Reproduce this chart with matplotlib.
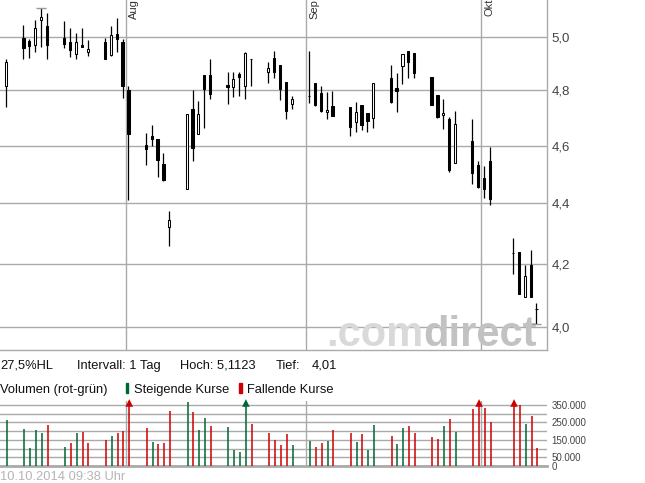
import numpy as np
import pandas as pd
import matplotlib
matplotlib.use("Agg")
import matplotlib.pyplot as plt
import matplotlib.dates as mdates
import matplotlib.transforms as mtransforms
from matplotlib.patches import Rectangle
from matplotlib.ticker import FixedLocator, FuncFormatter, NullLocator

plt.rcParams['font.family'] = ['Liberation Sans', 'DejaVu Sans']

# daily candles, 11.07.2014 - 10.10.2014
dates = ["2014-07-11", "2014-07-14", "2014-07-15", "2014-07-16", "2014-07-17", "2014-07-18",
         "2014-07-21", "2014-07-22", "2014-07-23", "2014-07-24", "2014-07-25",
         "2014-07-28", "2014-07-29", "2014-07-30", "2014-07-31", "2014-08-01",
         "2014-08-04", "2014-08-05", "2014-08-06", "2014-08-07", "2014-08-08",
         "2014-08-11", "2014-08-12", "2014-08-13", "2014-08-14", "2014-08-15",
         "2014-08-18", "2014-08-19", "2014-08-20", "2014-08-21", "2014-08-22",
         "2014-08-25", "2014-08-26", "2014-08-27", "2014-08-28", "2014-08-29",
         "2014-09-01", "2014-09-02", "2014-09-03", "2014-09-04", "2014-09-05",
         "2014-09-08", "2014-09-09", "2014-09-10", "2014-09-11", "2014-09-12",
         "2014-09-15", "2014-09-16", "2014-09-17", "2014-09-18", "2014-09-19",
         "2014-09-22", "2014-09-23", "2014-09-24", "2014-09-25", "2014-09-26",
         "2014-09-29", "2014-09-30", "2014-10-01", "2014-10-02",
         "2014-10-06", "2014-10-07", "2014-10-08", "2014-10-09", "2014-10-10"]

opens = [4.815, 4.997, 4.986, 4.969, 5.066, 5.044, 4.997, 4.981, 4.935, 4.972, 4.943,
         4.982, 4.934, 5.013, 4.981, 4.801, 4.602, 4.634, 4.624, 4.536, 4.322,
         4.448, 4.731, 4.640, 4.857, 4.857, 4.820, 4.814, 4.861, 4.817, 4.916,
         4.867, 4.920, 4.895, 4.830, 4.749, 4.778, 4.827, 4.790, 4.720, 4.743,
         4.738, 4.686, 4.745, 4.716, 4.698, 4.845, 4.808, 4.891, 4.948, 4.939,
         4.848, 4.782, 4.709, 4.695, 4.538, 4.617, 4.532, 4.488, 4.546,
         4.236, 4.238, 4.094, 4.197, 4.057]
highs = [4.916, 5.048, 4.992, 5.066, 5.1123, 5.093, 5.063, 5.036, 5.015, 5.036, 4.990,
         4.997, 5.044, 5.075, 4.993, 4.816, 4.645, 4.673, 4.624, 4.574, 4.375,
         4.712, 4.801, 4.761, 4.857, 4.917, 4.868, 4.868, 4.868, 4.945, 4.916,
         4.905, 4.948, 4.895, 4.830, 4.778, 4.948, 4.827, 4.816, 4.794, 4.798,
         4.738, 4.757, 4.745, 4.716, 4.826, 4.895, 4.863, 4.935, 4.948, 4.939,
         4.848, 4.782, 4.767, 4.701, 4.724, 4.694, 4.545, 4.529, 4.594,
         4.285, 4.238, 4.197, 4.245, 4.075]
lows = [4.740, 4.918, 4.922, 4.945, 4.964, 4.918, 4.960, 4.926, 4.918, 4.962, 4.930,
        4.916, 4.930, 4.945, 4.773, 4.412, 4.533, 4.600, 4.491, 4.478, 4.259,
        4.448, 4.547, 4.640, 4.664, 4.769, 4.751, 4.777, 4.780, 4.769, 4.817,
        4.828, 4.847, 4.766, 4.696, 4.731, 4.752, 4.743, 4.721, 4.696, 4.707,
        4.635, 4.648, 4.656, 4.648, 4.664, 4.755, 4.722, 4.822, 4.847, 4.847,
        4.747, 4.698, 4.658, 4.509, 4.538, 4.467, 4.453, 4.419, 4.396,
        4.168, 4.105, 4.094, 4.096, 4.010]
closes = [4.905, 4.960, 4.965, 5.035, 5.078, 4.972, 4.975, 4.953, 4.981, 4.964, 4.954,
          4.918, 5.009, 4.995, 4.817, 4.643, 4.589, 4.623, 4.551, 4.480, 4.343,
          4.712, 4.593, 4.712, 4.806, 4.788, 4.814, 4.841, 4.848, 4.939, 4.916,
          4.882, 4.867, 4.806, 4.723, 4.769, 4.778, 4.747, 4.725, 4.728, 4.707,
          4.668, 4.721, 4.675, 4.687, 4.826, 4.758, 4.799, 4.935, 4.905, 4.866,
          4.747, 4.702, 4.716, 4.515, 4.678, 4.505, 4.457, 4.450, 4.414,
          4.236, 4.105, 4.162, 4.096, 4.057]
volumes = [263000, 211000, 102000, 206000, 188000, 234000, 108000, 131000, 188000, 194000, 131000,
           148000, 171000, 188000, 200000, 520000, 217000, 137000, 125000, 131000, 315000,
           368000, 309000, 206000, 275000, 229000, 223000, 90000, 79000, 410000, 240000,
           188000, 148000, 119000, 183000, 119000, 142000, 108000, 131000, 142000, 206000,
           188000, 137000, 183000, 90000, 234000, 171000, 125000, 217000, 229000, 188000,
           165000, 154000, 229000, 269000, 194000, 327000, 450000, 332000, 252000,
           480000, 350000, 240000, 286000, 102000]

price_ticks = [4.0, 4.2, 4.4, 4.6, 4.8, 5.0]
vol_ticks = [0, 50000, 100000, 150000, 200000, 250000, 300000, 350000]
vol_labelled = [0, 50000, 150000, 250000, 350000]
months = ["2014-08-01", "2014-09-01", "2014-10-01"]
month_names = ["Aug", "Sep", "Okt"]

W, H = 645, 483
fig = plt.figure(figsize=(W / 100, H / 100), dpi=100)


def box(x0, y0, x1, y1):
    # pixel box (top-left origin) -> figure rect
    return [x0 / W, 1 - y1 / H, (x1 - x0) / W, (y1 - y0) / H]


t = mdates.date2num(pd.to_datetime(dates).to_numpy() + np.timedelta64(12, 'h'))
tm = mdates.date2num(pd.to_datetime(months).to_numpy())
xlim = (mdates.date2num(np.datetime64("2014-07-10T07:12")),
        mdates.date2num(np.datetime64("2014-10-12T06:00")))

o = np.array(opens)
c = np.array(closes)
hi = np.array(highs)
lo = np.array(lows)
vol = np.array(volumes)

grid_c = '#aaaaaa'

# price chart
ax = fig.add_axes(box(-1, -1, 546.7, 350))
ax.set_yscale('log')
ax.set_xlim(xlim)
ax.set_ylim(3.931, 5.1496)
ax.yaxis.set_major_locator(FixedLocator(price_ticks))
ax.yaxis.set_minor_locator(NullLocator())
ax.yaxis.set_major_formatter(FuncFormatter(lambda v, p: f"{v:.1f}".replace('.', ',')))
ax.yaxis.tick_right()
ax.tick_params(axis='y', length=0, pad=3.5, labelsize=9.5, labelcolor='#444444')
ax.set_xticks([])
ax.grid(axis='y', color=grid_c, lw=1, zorder=1)
ax.set_axisbelow(True)
for s in ['top', 'left']:
    ax.spines[s].set_visible(False)
for s in ['right', 'bottom']:
    ax.spines[s].set_color(grid_c)
    ax.spines[s].set_linewidth(1)
for m, name in zip(tm, month_names):
    ax.axvline(m, color=grid_c, lw=1, zorder=1)
    ax.text(m + 0.6, 1.0, name, rotation=90, ha='left', va='top', fontsize=8,
            color='#333333', transform=mtransforms.blended_transform_factory(ax.transData, ax.transAxes))

# watermark
wm = ax.text(326 / W, 1 - 346 / H, ".com", transform=fig.transFigure, fontsize=30,
             fontweight='bold', color='#d9d9d9', va='baseline', ha='left', zorder=2,
             clip_on=True)
ax.annotate("direct", xy=(1, 0), xycoords=wm, fontsize=30, fontweight='bold',
            color='#c2c2c2', va='bottom', ha='left', zorder=2, annotation_clip=False)

# candles
ax.vlines(t, lo, hi, color='black', lw=0.9, zorder=3)
up = c >= o
ax.bar(t, np.abs(c - o), bottom=np.minimum(o, c), width=0.38,
       color=np.where(up, 'white', 'black'), edgecolor='black', lw=0.75, zorder=4)

# high / low markers
i_hi = int(np.argmax(hi))
i_lo = int(np.argmin(lo))
ax.hlines(hi[i_hi], t[i_hi] - 0.9, t[i_hi] + 0.9, color='#999999', lw=1, zorder=3)
ax.hlines(lo[i_lo], t[i_lo] - 0.7, t[i_lo] + 0.8, color='#999999', lw=1, zorder=3)

# volume chart
vmax = 375000
axv = fig.add_axes(box(-1, 400.7, 546.7, 466))
axv.set_xlim(xlim)
axv.set_ylim(0, vmax)
axv.set_yticks(vol_ticks)
axv.yaxis.set_major_formatter(FuncFormatter(
    lambda v, p: f"{int(v):,}".replace(',', '.') if int(v) in vol_labelled else ''))
axv.yaxis.tick_right()
axv.tick_params(axis='y', length=0, pad=3.5, labelsize=7, labelcolor='#444444')
axv.set_xticks([])
axv.grid(axis='y', color=grid_c, lw=1)
axv.set_axisbelow(True)
for s in ['top', 'left', 'right']:
    axv.spines[s].set_visible(False)
axv.spines['bottom'].set_color(grid_c)
axv.spines['bottom'].set_linewidth(2)
for m in tm:
    axv.axvline(m, color=grid_c, lw=1, zorder=1)

rising = np.diff(c, prepend=c[0]) >= 0
vcol = np.where(rising, '#006633', '#cc0000')
axv.vlines(t + 0.15, 0, np.minimum(vol, vmax), colors=vcol, lw=1.1, zorder=3)
over = vol > vmax
axv.scatter(t[over] + 0.15, np.full(over.sum(), 362000), marker='^', s=30,
            c=vcol[over], zorder=4, clip_on=False, linewidths=0)

# info lines
def ftext(x, y, s, **kw):
    fig.text(x / W, 1 - y / H, s, va='baseline', ha='left', fontsize=9.3, color='#111111', **kw)


ftext(0.5, 369, "27,5%HL")
ftext(77.3, 369, "Intervall: 1 Tag")
ftext(180.3, 369, "Hoch: 5,1123")
ftext(276, 369, "Tief:")
ftext(311.7, 369, "4,01")
ftext(0.5, 393.3, "Volumen (rot-grün)")
ftext(134.3, 393.3, "Steigende Kurse")
ftext(247, 393.3, "Fallende Kurse")
fig.patches.append(Rectangle((126 / W, 1 - 393 / H), 2.3 / W, 10 / H, color='#006633',
                             transform=fig.transFigure, figure=fig))
fig.patches.append(Rectangle((239.3 / W, 1 - 393 / H), 2.3 / W, 10 / H, color='#cc0000',
                             transform=fig.transFigure, figure=fig))
fig.text(0.5 / W, 1 - 480.3 / H, "10.10.2014 09:38 Uhr", va='baseline', ha='left',
         fontsize=9.3, color='#b5b5b5')

fig.savefig("out.png", dpi=100, facecolor='white')
